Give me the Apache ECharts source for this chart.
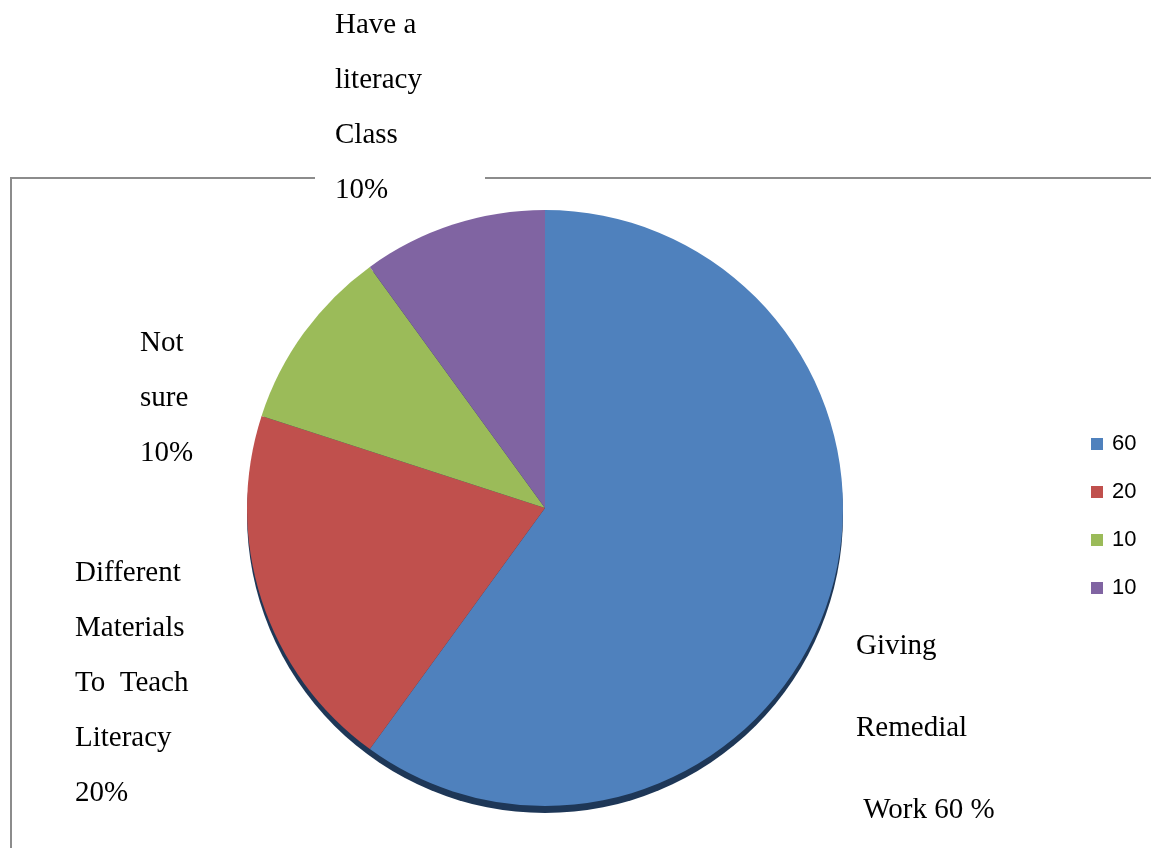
<!DOCTYPE html>
<html>
<head>
<meta charset="utf-8">
<script src="https://cdn.jsdelivr.net/npm/echarts@6/dist/echarts.min.js"></script>
<style>
html,body{margin:0;padding:0;background:#fff;}
#main{width:1151px;height:848px;}
</style>
</head>
<body>
<div id="main"></div>
<script>
const categories = ['Giving Remedial Work', 'Different Materials To Teach Literacy', 'Not sure', 'Have a literacy Class'];
const values = [60, 20, 10, 10];
const legendLabels = ['60', '20', '10', '10'];
const sliceLabels = [
  'Giving\nRemedial\n Work 60 %',
  'Different\nMaterials\nTo  Teach\nLiteracy\n20%',
  'Not\nsure\n10%',
  'Have a\nliteracy\nClass\n10%'
];
const colors = ['#4f81bd', '#c0504d', '#9bbb59', '#8064a2'];

const labelPos = [
  {x: 856, y: 605, lh: 82},
  {x: 75, y: 546, lh: 55},
  {x: 140, y: 316, lh: 55},
  {x: 335, y: -2, lh: 55}
];

const chart = echarts.init(document.getElementById('main'), null, {renderer: 'canvas'});
const option = {
  backgroundColor: '#ffffff',
  animation: false,
  legend: {
    orient: 'vertical',
    left: 1086,
    top: 427,
    itemWidth: 12,
    itemHeight: 12,
    itemGap: 24,
    icon: 'rect',
    data: categories,
    formatter: function (name) { return legendLabels[categories.indexOf(name)]; },
    textStyle: {fontFamily: 'Liberation Sans', fontSize: 22, lineHeight: 24, color: '#000', padding: [0, 0, 0, 4]}
  },
  graphic: [
    {type: 'line', shape: {x1: 10, y1: 178, x2: 315, y2: 178}, style: {stroke: '#8c8c8c', lineWidth: 2}},
    {type: 'line', shape: {x1: 485, y1: 178, x2: 1151, y2: 178}, style: {stroke: '#8c8c8c', lineWidth: 2}},
    {type: 'line', shape: {x1: 11, y1: 177, x2: 11, y2: 848}, style: {stroke: '#8c8c8c', lineWidth: 2}}
  ],
  series: [
    {
      type: 'pie',
      silent: true,
      z: 1,
      center: [545, 515],
      radius: 298,
      label: {show: false},
      labelLine: {show: false},
      itemStyle: {color: '#1e3757'},
      data: [{name: 'shadow', value: 1}]
    },
    {
      type: 'pie',
      z: 2,
      center: [545, 508],
      radius: 298,
      startAngle: 90,
      clockwise: true,
      itemStyle: {borderWidth: 0},
      emphasis: {disabled: true},
      data: categories.map((c, i) => ({name: c, value: values[i], itemStyle: {color: colors[i]}})),
      label: {
        show: true,
        position: 'outside',
        fontFamily: 'Liberation Serif',
        fontSize: 29,
        color: '#000',
        formatter: function (p) { return sliceLabels[p.dataIndex]; }
      },
      labelLine: {show: false},
      labelLayout: function (params) {
        const p = labelPos[params.dataIndex];
        return {x: p.x, y: p.y, align: 'left', verticalAlign: 'top', moveOverlap: false, hideOverlap: false};
      }
    }
  ]
};
option.series[1].data.forEach((d, i) => { d.label = {lineHeight: labelPos[i].lh}; });
chart.setOption(option);
</script>
</body>
</html>
